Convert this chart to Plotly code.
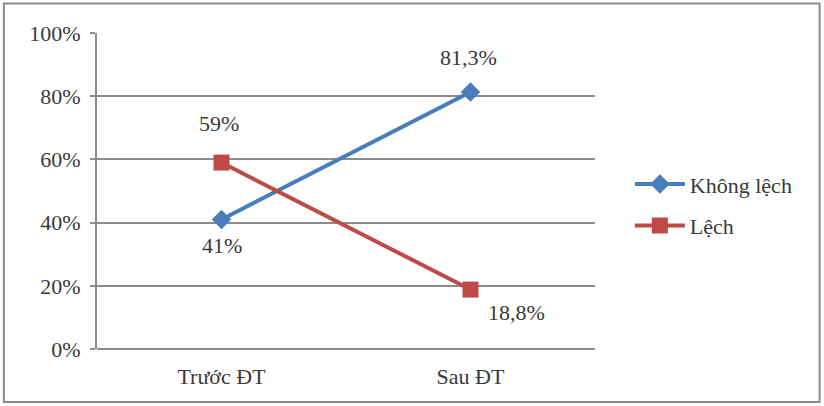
import plotly.graph_objects as go

categories = ["Trước ĐT", "Sau ĐT"]
khong_lech = [41, 81.3]
lech = [59, 18.8]
khong_lech_labels = ["41%", "81,3%"]
lech_labels = ["59%", "18,8%"]
y_ticks = [0, 20, 40, 60, 80, 100]
y_tick_labels = ["0%", "20%", "40%", "60%", "80%", "100%"]

FONT = "'Liberation Serif', 'Times New Roman', serif"
FS = 22
TXT = "#3a3a3a"
fig = go.Figure()
fig.add_trace(go.Scatter(
    x=categories, y=khong_lech, name="Không lệch", mode="lines+markers",
    legendgroup="a",
    line=dict(color="#4A7EBB", width=4),
    marker=dict(symbol="diamond", size=15, color="#4A7EBB"),
))
fig.add_trace(go.Scatter(
    x=categories, y=lech, name="Lệch", mode="lines+markers",
    legendgroup="b",
    line=dict(color="#BE4B48", width=4),
    marker=dict(symbol="square", size=16, color="#BE4B48"),
))

annotations = []
kl_shifts = [(0, -26), (-2, 35)]
l_shifts = [(-3, 39), (46, -23)]
for i, c in enumerate(categories):
    annotations.append(dict(x=c, y=khong_lech[i], text=khong_lech_labels[i], showarrow=False,
                            xshift=kl_shifts[i][0], yshift=kl_shifts[i][1],
                            font=dict(family=FONT, size=FS, color=TXT)))
    annotations.append(dict(x=c, y=lech[i], text=lech_labels[i], showarrow=False,
                            xshift=l_shifts[i][0], yshift=l_shifts[i][1],
                            font=dict(family=FONT, size=FS, color=TXT)))

fig.update_layout(
    width=824, height=406,
    margin=dict(l=97, r=229, t=33, b=57),
    paper_bgcolor="white", plot_bgcolor="white",
    font=dict(family=FONT, size=FS, color=TXT),
    showlegend=True,
    legend=dict(x=1.07, y=0.455, xanchor="left", yanchor="middle",
                font=dict(family=FONT, size=FS, color=TXT),
                itemwidth=50, tracegroupgap=10),
    xaxis=dict(type="category", range=[-0.5, 1.5], showgrid=False,
               showline=False, ticks="", ticklabelstandoff=12,
               tickfont=dict(family=FONT, size=FS, color=TXT)),
    yaxis=dict(range=[0, 100], tickvals=y_ticks, ticktext=y_tick_labels,
               showgrid=True, gridcolor="#8C8C8C", gridwidth=2,
               showline=True, linecolor="#8C8C8C", linewidth=2,
               ticks="outside", ticklen=5, tickcolor="#8C8C8C", tickwidth=2,
               ticklabelstandoff=5,
               zeroline=True, zerolinecolor="#8C8C8C", zerolinewidth=2,
               tickfont=dict(family=FONT, size=FS, color=TXT)),
    annotations=annotations,
    shapes=[dict(type="rect", xref="paper", yref="paper",
                 x0=-0.187, x1=1.451, y0=-0.168, y1=1.093,
                 line=dict(color="#8C8C8C", width=2), fillcolor="rgba(0,0,0,0)")],
)
fig.write_html("out.html")
